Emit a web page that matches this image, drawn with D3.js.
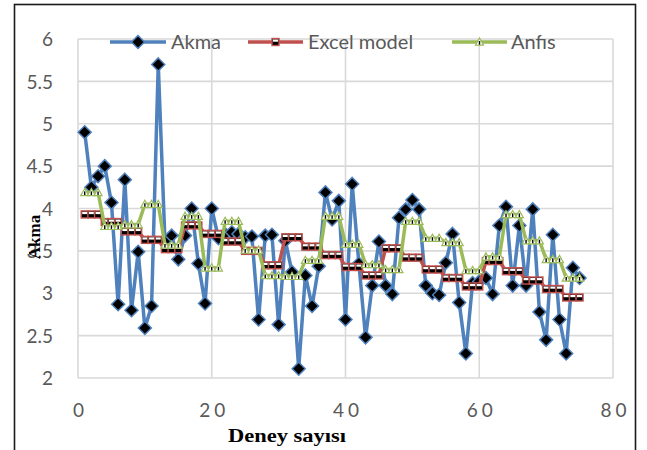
<!DOCTYPE html>
<html>
<head>
<meta charset="utf-8">
<script src="https://cdn.jsdelivr.net/npm/d3@7"></script>
<style>
  html, body { margin: 0; padding: 0; background: #fff; }
  svg { display: block; }
</style>
</head>
<body>
<svg id="chart" width="647" height="450"></svg>
<script>
// Experiment numbers 1..75
const deney = d3.range(1, 76);

// Measured yield values
const akma = [
  4.90, 4.25, 4.38, 4.50, 4.07, 2.87, 4.34, 2.80, 3.49, 2.59,
  2.85, 5.70, 3.62, 3.68, 3.40, 3.68, 4.00, 3.35, 2.88, 4.00,
  3.65, 3.70, 3.72, 3.70, 3.66, 3.67, 2.69, 3.68, 3.69, 2.63,
  3.62, 3.25, 2.11, 3.21, 2.85, 3.32, 4.19, 3.87, 4.09, 2.69,
  4.29, 3.35, 2.48, 3.09, 3.61, 3.09, 2.99, 3.89, 3.99, 4.10,
  3.99, 3.09, 3.00, 2.98, 3.36, 3.70, 2.89, 2.29, 3.12, 3.14,
  3.18, 2.99, 3.80, 4.02, 3.09, 3.80, 3.09, 3.99, 2.78, 2.45,
  3.69, 2.69, 2.29, 3.30, 3.18
];

// Excel regression model predictions
const excelModel = [
  3.93, 3.93, 3.93, 3.84, 3.84, 3.84, 3.73, 3.73, 3.73, 3.63,
  3.63, 3.63, 3.52, 3.52, 3.52, 3.80, 3.80, 3.80, 3.70, 3.70,
  3.70, 3.61, 3.61, 3.61, 3.50, 3.50, 3.50, 3.33, 3.33, 3.33,
  3.66, 3.66, 3.66, 3.55, 3.55, 3.55, 3.45, 3.45, 3.45, 3.31,
  3.31, 3.31, 3.21, 3.21, 3.21, 3.53, 3.53, 3.53, 3.42, 3.42,
  3.42, 3.28, 3.28, 3.28, 3.18, 3.18, 3.18, 3.08, 3.08, 3.08,
  3.38, 3.38, 3.38, 3.26, 3.26, 3.26, 3.15, 3.15, 3.15, 3.05,
  3.05, 3.05, 2.95, 2.95, 2.95
];

// ANFIS model predictions
const anfis = [
  4.19, 4.19, 4.19, 3.79, 3.79, 3.79, 3.81, 3.81, 3.81, 4.05,
  4.05, 4.05, 3.57, 3.57, 3.57, 3.91, 3.91, 3.91, 3.30, 3.30,
  3.30, 3.85, 3.85, 3.85, 3.51, 3.51, 3.51, 3.21, 3.21, 3.21,
  3.20, 3.20, 3.20, 3.39, 3.39, 3.39, 3.91, 3.91, 3.91, 3.58,
  3.58, 3.58, 3.34, 3.34, 3.34, 3.28, 3.28, 3.28, 3.85, 3.85,
  3.85, 3.65, 3.65, 3.65, 3.60, 3.60, 3.60, 3.27, 3.27, 3.27,
  3.43, 3.43, 3.43, 3.93, 3.93, 3.93, 3.62, 3.62, 3.62, 3.40,
  3.40, 3.40, 3.18, 3.18, 3.18
];

const xTicks = [0, 20, 40, 60, 80];
const yTicks = [2, 2.5, 3, 3.5, 4, 4.5, 5, 5.5, 6];

const seriesNames = ["Akma", "Excel model", "Anfıs"];
const colors = { blue: "#4f81bd", red: "#c0504d", green: "#9bbb59" };

const svg = d3.select("#chart");

const x = d3.scaleLinear().domain([0, 80]).range([78, 613]);
const y = d3.scaleLinear().domain([2, 6]).range([378, 39]);

// Outer frame
svg.append("rect")
  .attr("x", 14.5).attr("y", 4.5)
  .attr("width", 621).attr("height", 460)
  .attr("fill", "none").attr("stroke", "#1a1a1a").attr("stroke-width", 1.6);

// Gridlines
const grid = svg.append("g");
grid.selectAll("line.h").data(yTicks).join("line")
  .attr("x1", x(0)).attr("x2", x(80))
  .attr("y1", d => y(d)).attr("y2", d => y(d))
  .attr("stroke", "#d9d9d9").attr("stroke-width", 1.6);
grid.selectAll("line.v").data(xTicks).join("line")
  .attr("x1", d => x(d)).attr("x2", d => x(d))
  .attr("y1", y(2)).attr("y2", y(6))
  .attr("stroke", "#d9d9d9").attr("stroke-width", 1.6);

// Axes (labels only, Excel style)
const yAxis = d3.axisLeft(y).tickValues(yTicks).tickSize(0).tickPadding(0)
  .tickFormat(d => String(d));
svg.append("g").attr("transform", "translate(53,0)").call(yAxis)
  .call(g => g.select(".domain").remove())
  .call(g => g.selectAll("text")
    .attr("font-family", "Lato, 'Open Sans', sans-serif")
    .attr("font-size", 19).attr("fill", "#595959").attr("dy", "0.35em"));

const xAxis = d3.axisBottom(x).tickValues(xTicks).tickSize(0).tickPadding(0)
  .tickFormat(d => String(d));
svg.append("g").attr("transform", "translate(0,403)").call(xAxis)
  .call(g => g.select(".domain").remove())
  .call(g => g.selectAll("text")
    .attr("font-family", "Lato, 'Open Sans', sans-serif")
    .attr("font-size", 19).attr("fill", "#595959")
    .attr("letter-spacing", 4).attr("dx", 2).attr("dy", "0.75em"));

// Axis titles
svg.append("text")
  .attr("x", 287).attr("y", 442)
  .attr("text-anchor", "middle")
  .attr("font-family", "'Liberation Serif', 'DejaVu Serif', serif")
  .attr("font-weight", "bold").attr("font-size", 19).attr("fill", "#000")
  .attr("textLength", 118).attr("lengthAdjust", "spacingAndGlyphs")
  .text("Deney sayısı");

svg.append("text")
  .attr("transform", "translate(40,237) rotate(-90)")
  .attr("text-anchor", "middle")
  .attr("font-family", "'Liberation Serif', 'DejaVu Serif', serif")
  .attr("font-weight", "bold").attr("font-size", 17).attr("fill", "#000")
  .text("Akma");

// Marker painters
function diamond(g, cx, cy) {
  const r = 6.5;
  g.append("path")
    .attr("d", `M${cx},${cy - r}L${cx + r},${cy}L${cx},${cy + r}L${cx - r},${cy}Z`)
    .attr("fill", "#000").attr("stroke", colors.blue).attr("stroke-width", 1.5);
}
function square(g, cx, cy) {
  g.append("rect").attr("x", cx - 3.5).attr("y", cy - 3.5)
    .attr("width", 7).attr("height", 7)
    .attr("fill", "#000").attr("stroke", colors.red).attr("stroke-width", 1.4);
  g.append("rect").attr("x", cx - 2.5).attr("y", cy - 2.5)
    .attr("width", 5).attr("height", 2.2).attr("fill", "#fff");
}
function triangle(g, cx, cy) {
  const h = 4;
  g.append("path")
    .attr("d", `M${cx},${cy - h}L${cx + h},${cy + h * 0.8}L${cx - h},${cy + h * 0.8}Z`)
    .attr("fill", "#fff").attr("stroke", colors.green).attr("stroke-width", 1.2);
  g.append("line").attr("x1", cx).attr("x2", cx)
    .attr("y1", cy - 1).attr("y2", cy + 2.6)
    .attr("stroke", "#000").attr("stroke-width", 1.4);
}

const line = d3.line().x(d => x(d[0])).y(d => y(d[1]));

const series = [
  { name: seriesNames[0], values: akma, color: colors.blue, marker: diamond },
  { name: seriesNames[1], values: excelModel, color: colors.red, marker: square },
  { name: seriesNames[2], values: anfis, color: colors.green, marker: triangle }
];

series.forEach(s => {
  const pts = deney.map((d, i) => [d, s.values[i]]);
  const g = svg.append("g");
  g.append("path").datum(pts)
    .attr("d", line)
    .attr("fill", "none").attr("stroke", s.color)
    .attr("stroke-width", 3.5).attr("stroke-linejoin", "round");
  pts.forEach(p => s.marker(g, x(p[0]), y(p[1])));
});

// Legend
const legendItems = [
  { x0: 110, x1: 166, tx: 171 },
  { x0: 248, x1: 303, tx: 308 },
  { x0: 452, x1: 507, tx: 511 }
];
const ly = 42;
series.forEach((s, i) => {
  const L = legendItems[i];
  const g = svg.append("g");
  g.append("line").attr("x1", L.x0).attr("x2", L.x1)
    .attr("y1", ly).attr("y2", ly)
    .attr("stroke", s.color).attr("stroke-width", 3.5);
  s.marker(g, (L.x0 + L.x1) / 2, ly);
  g.append("text").attr("x", L.tx).attr("y", ly).attr("dy", "0.35em")
    .attr("font-family", "Lato, 'Open Sans', sans-serif")
    .attr("font-size", 20).attr("fill", "#595959")
    .text(s.name);
});
</script>
</body>
</html>
